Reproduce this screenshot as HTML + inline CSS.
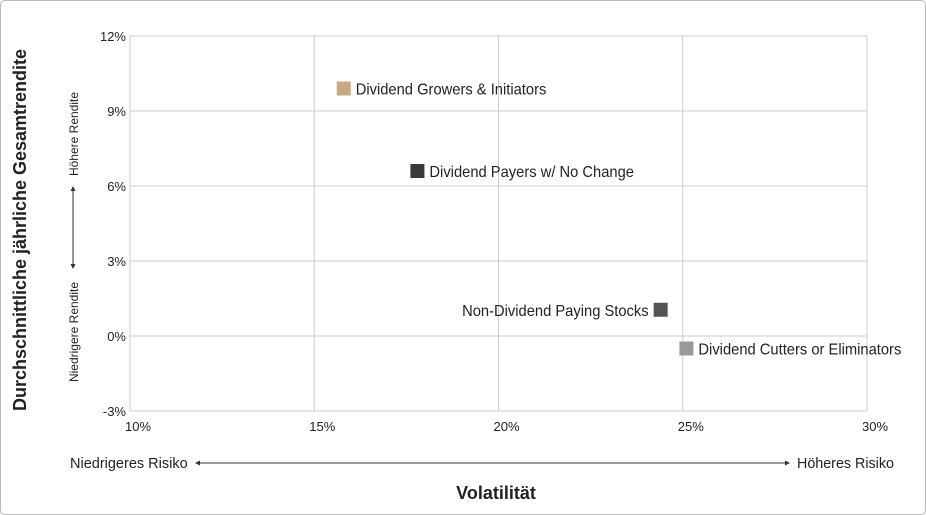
<!DOCTYPE html>
<html><head><meta charset="utf-8"><style>
body{margin:0;background:#fff}
svg{display:block;font-family:"Liberation Sans",Arial,sans-serif}
</style></head><body>
<svg id="chart" width="926" height="515">
<rect x="0.5" y="0.5" width="925" height="514" rx="4" fill="#fff" stroke="#bbb"/>
<g id="grid"></g><g id="ticks"></g><g id="marks"></g>
<text transform="translate(26,230) rotate(-90)" text-anchor="middle" font-size="18" font-weight="bold" fill="#222">Durchschnittliche jährliche Gesamtrendite</text>
<text transform="translate(78,134) rotate(-90)" text-anchor="middle" font-size="12" fill="#222">Höhere Rendite</text>
<text transform="translate(78,332) rotate(-90)" text-anchor="middle" font-size="12" fill="#222">Niedrigere Rendite</text>
<g><line x1="73" y1="190" x2="73" y2="265" stroke="#333"/><path d="M73,186 l-2.5,5 h5z M73,269 l-2.5,-5 h5z" fill="#333"/></g>
<text x="70" y="468" font-size="14.5" fill="#222">Niedrigeres Risiko</text>
<text x="797" y="468" font-size="14.3" fill="#222">Höheres Risiko</text>
<g><line x1="199" y1="463" x2="786" y2="463" stroke="#333"/><path d="M195,463 l5,-2.5 v5z M790,463 l-5,-2.5 v5z" fill="#333"/></g>
<text x="496" y="499" text-anchor="middle" font-size="18" font-weight="bold" fill="#222">Volatilität</text>
</svg>
<script>
const names=["Dividend Growers & Initiators","Dividend Payers w/ No Change","Non-Dividend Paying Stocks","Dividend Cutters or Eliminators"];
const volatility=[15.8,17.8,24.4,25.1];
const returns=[9.9,6.6,1.05,-0.5];
const colors=["#c8a982","#3a3a3a","#555555","#999999"];
const labelSide=["right","right","left","right"];
const xTicks=[10,15,20,25,30];
const yTicks=[-3,0,3,6,9,12];
const NS="http://www.w3.org/2000/svg";
const X=v=>130+(v-10)*(737/20);
const Y=v=>336-v*25;
function mk(tag,attrs,parent){const e=document.createElementNS(NS,tag);for(const k in attrs)e.setAttribute(k,attrs[k]);document.getElementById(parent).appendChild(e);return e;}
xTicks.forEach(t=>{
 const l=mk("line",{x1:X(t),x2:X(t),y1:Y(12),y2:Y(-3),stroke:"#ccc"},"grid");
 
 
 const tx=mk("text",{x:X(t)+8,y:431,"text-anchor":"middle","font-size":13,fill:"#222"},"ticks");
 tx.textContent=t+"%";
 
 
});
yTicks.forEach(t=>{
 const l=mk("line",{x1:X(10),x2:X(30),y1:Y(t),y2:Y(t),stroke:"#ccc"},"grid");
 
 
 const tx=mk("text",{x:126,y:Y(t)+5,"text-anchor":"end","font-size":13,fill:"#222"},"ticks");
 tx.textContent=t+"%";
 
 
});
names.forEach((n,i)=>{
 const cx=X(volatility[i]),cy=Y(returns[i]);
 const r=mk("rect",{x:cx-7,y:cy-7,width:14,height:14,fill:colors[i]},"marks");
 
 
 const right=labelSide[i]==="right";
 const tx=mk("text",{x:right?cx+12:cx-12,y:cy+6,"text-anchor":right?"start":"end","font-size":16,fill:"#222"},"marks");
 tx.textContent=n;
 
 
 const w=tx.getComputedTextLength();
 tx.setAttribute("textLength",w*0.92);
 tx.setAttribute("lengthAdjust","spacingAndGlyphs");
});
</script>
</body></html>
